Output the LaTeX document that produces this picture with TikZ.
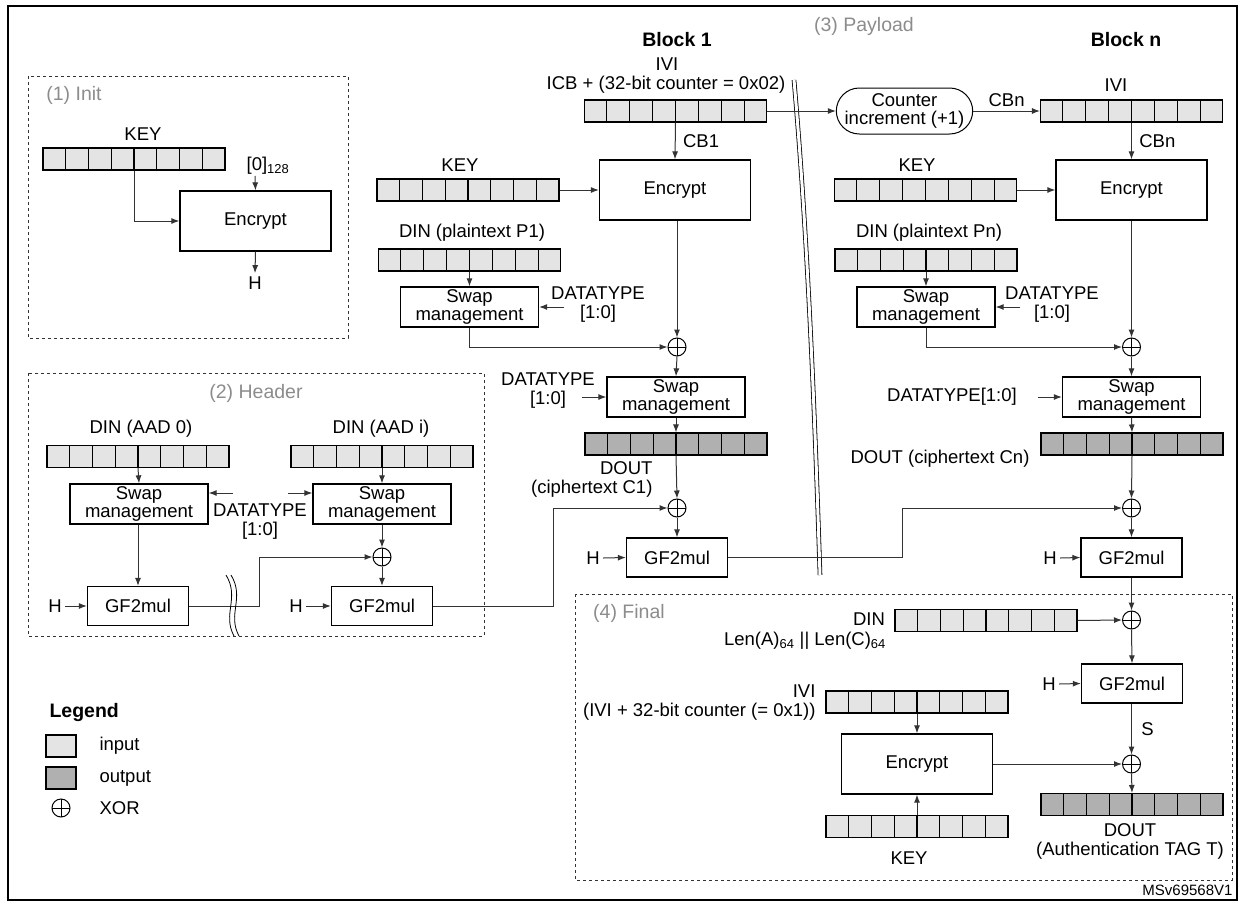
\documentclass[tikz,border=0pt]{standalone}
\usepackage{fontspec}
\setmainfont{Liberation Sans}
\usetikzlibrary{calc,arrows.meta,shapes.misc}
\definecolor{inp}{HTML}{E4E4E4}
\definecolor{outp}{HTML}{B0B0B0}
\definecolor{ttl}{HTML}{8C8C8C}
\definecolor{ln}{HTML}{333333}
\newcommand\regbox[4]{%
  \node[draw,line width=1.1pt,fill=#4,minimum width=182pt,minimum height=22pt,inner sep=0pt] (#1) at (#2,#3) {};
  \foreach \i in {1,...,7}{\draw[line width=1.1pt] ($(#1.south west)!\i/8!(#1.south east)$) -- ($(#1.north west)!\i/8!(#1.north east)$);}}
\begin{document}
\begin{tikzpicture}[x=1pt,y=-1pt,
  every node/.style={font=\fontsize{18.5}{19}\selectfont},
  blk/.style={draw,line width=1.3pt,fill=white,inner sep=1pt,align=center},
  swapbox/.style={blk,minimum width=138pt,minimum height=40pt,font=\fontsize{18.5}{18}\selectfont},
  gfbox/.style={blk,minimum width=101pt,minimum height=39pt},
  encbox/.style={blk,minimum width=151pt,minimum height=60pt},
  xorn/.style={circle,draw,line width=1pt,minimum size=18pt,inner sep=0pt,
    path picture={\draw[line width=1pt] (path picture bounding box.north) -- (path picture bounding box.south) (path picture bounding box.west) -- (path picture bounding box.east);}},
  arr/.style={draw=ln,line width=1pt,-{Latex[length=8pt,width=6pt]}},
  frame/.style={dashed,line width=0.9pt,draw=black!80},
  gtitle/.style={text=ttl,font=\fontsize{19.5}{20}\selectfont},
  btitle/.style={font=\bfseries\fontsize{19.5}{20}\selectfont}]
\useasboundingbox (0,0) rectangle (1240,905);
\draw[line width=1.6pt] (8,6) rectangle (1237,900);

% ---------- (1) Init
\draw[frame] (28,76) rectangle (348,338);
\node[gtitle] (tinit) at (74,95) {(1) Init};
\node (ikeyl) at (143,134) {KEY};
\regbox{ikey}{134}{159}{inp}
\node[encbox] (ienc) at (255.5,221) {Encrypt};
\node (izero) at (268,166) {[0]\textsubscript{128}};
\coordinate (iz) at (255,176);
\draw[arr] (iz) -- (ienc.north);
\draw[arr] (ikey.south) |- (ienc.west);
\node (iH) at (255,283) {H};
\draw[arr] (ienc.south) -- (iH.north);

% ---------- titles
\node[btitle] (tb1) at (677,40) {Block 1};
\node[gtitle] (tpay) at (864,26) {(3) Payload};
\node[btitle] (tbn) at (1126,40) {Block n};

% ---------- Block 1
\node (ivi1l) at (667,64) {IVI};
\node (icbl) at (666,85) {ICB + (32-bit counter = 0x02)};
\regbox{ivi1}{675.5}{111}{inp}
\node[encbox] (enc1) at (675,190) {Encrypt};
\draw[arr] (ivi1.south) -- (enc1.north) node[midway,right,xshift=4pt] {CB1};
\node (key1l) at (460,165) {KEY};
\regbox{key1}{468}{190}{inp}
\draw[arr] (key1.east) -- (enc1.west);
\node (din1l) at (472,233) {DIN (plaintext P1)};
\regbox{din1}{469.5}{260}{inp}
\node[swapbox] (sw1) at (469.5,307) {Swap\\management};
\draw[arr] (din1.south) -- (sw1.north);
\node[align=center] (dt1) at (598,305) {DATATYPE\\{}[1:0]};
\coordinate (dt1a) at (564,307);
\draw[arr] (dt1a) -- (sw1.east);
\node[xorn] (x1) at (677,347) {};
\draw[arr] (enc1.south -| x1) -- (x1.north);
\draw[arr] (sw1.south) |- (x1.west);
\node[swapbox] (sw1b) at (676,397) {Swap\\management};
\draw[arr] (x1.south) -- (sw1b.north);
\node[align=center] (dt1b) at (548,391) {DATATYPE\\{}[1:0]};
\coordinate (dt1ba) at (582,397);
\draw[arr] (dt1ba) -- (sw1b.west);
\regbox{dout1}{676}{444}{outp}
\draw[arr] (sw1b.south) -- (dout1.north);
\node[anchor=east,align=right] (dout1l) at (656,479) {DOUT\\(ciphertext C1)};
\node[xorn] (x2) at (677,508) {};
\draw[arr] (dout1.south) -- (x2.north);
\node[gfbox] (gf1) at (677,557.5) {GF2mul};
\draw[arr] (x2.south) -- (gf1.north);
\node (h1) at (593,558) {H};
\draw[arr] (h1.east) -- (gf1.west);

% ---------- separator
\draw[line width=0.8pt,double distance=3pt] (794,80) .. controls (808,240) and (815,420) .. (820,575);

% ---------- Block n
\node[rounded rectangle,draw,line width=1pt,minimum width=143pt,minimum height=46pt,align=center,font=\fontsize{18.5}{18}\selectfont] (cnt) at (904.5,111) {Counter\\increment (+1)};
\draw[arr] (ivi1.east) -- (cnt.west);
\node (ivinl) at (1116,85) {IVI};
\regbox{ivin}{1131.5}{111}{inp}
\draw[arr] (cnt.east) -- (ivin.west) node[midway,above] {CBn};
\node[encbox] (encn) at (1131.5,190) {Encrypt};
\draw[arr] (ivin.south) -- (encn.north) node[midway,right,xshift=4pt] {CBn};
\node (keynl) at (917,165) {KEY};
\regbox{keyn}{925.5}{190}{inp}
\draw[arr] (keyn.east) -- (encn.west);
\node (dinnl) at (929,233) {DIN (plaintext Pn)};
\regbox{dinn}{926}{260}{inp}
\node[swapbox] (swn) at (926,307) {Swap\\management};
\draw[arr] (dinn.south) -- (swn.north);
\node[align=center] (dtn) at (1052,305) {DATATYPE\\{}[1:0]};
\coordinate (dtna) at (1020,307);
\draw[arr] (dtna) -- (swn.east);
\node[xorn] (xn1) at (1131.5,347) {};
\draw[arr] (encn.south) -- (xn1.north);
\draw[arr] (swn.south) |- (xn1.west);
\node[swapbox] (swnb) at (1131.5,397) {Swap\\management};
\draw[arr] (xn1.south) -- (swnb.north);
\node (dtnb) at (952,397) {DATATYPE[1:0]};
\coordinate (dtnba) at (1038,397);
\draw[arr] (dtnba) -- (swnb.west);
\regbox{doutn}{1132}{444}{outp}
\draw[arr] (swnb.south) -- (doutn.north);
\node (doutnl) at (940,459) {DOUT (ciphertext Cn)};
\node[xorn] (xn2) at (1131.5,508) {};
\draw[arr] (doutn.south) -- (xn2.north);
\node[gfbox] (gfn) at (1131.5,557.5) {GF2mul};
\draw[arr] (xn2.south) -- (gfn.north);
\node (hn) at (1050,558) {H};
\draw[arr] (hn.east) -- (gfn.west);
\draw[arr] (gf1.east) -- ++(174,0) |- (xn2.west);

% ---------- (2) Header
\draw[frame] (28,373) rectangle (484,636);
\node[gtitle] (thdr) at (256,393) {(2) Header};
\node (h0l) at (141,429) {DIN (AAD 0)};
\regbox{h0}{138}{456.5}{inp}
\node[swapbox] (swh1) at (139,504) {Swap\\management};
\draw[arr] (h0.south) -- (swh1.north);
\node (hil) at (381,429) {DIN (AAD i)};
\regbox{hi}{382}{456.5}{inp}
\node[swapbox] (swh2) at (382,504) {Swap\\management};
\draw[arr] (hi.south) -- (swh2.north);
\node[align=center] (dth) at (260,522) {DATATYPE\\{}[1:0]};
\coordinate (dtha) at (233,493);
\coordinate (dthb) at (288,493);
\draw[arr] (dtha) -- (dtha -| swh1.east);
\draw[arr] (dthb) -- (dthb -| swh2.west);
\node[gfbox] (gfh1) at (138,606) {GF2mul};
\draw[arr] (swh1.south -| gfh1) -- (gfh1.north);
\node (hh1) at (55,606) {H};
\draw[arr] (hh1.east) -- (gfh1.west);
\node[xorn] (xh) at (382,557) {};
\draw[arr] (swh2.south) -- (xh.north);
\node[gfbox] (gfh2) at (382,606) {GF2mul};
\draw[arr] (xh.south) -- (gfh2.north);
\node (hh2) at (296,606) {H};
\draw[arr] (hh2.east) -- (gfh2.west);
\draw[arr] (gfh1.east) -- ++(70,0) |- (xh.west);
\draw[line width=0.8pt] (226,575) .. controls (240,598) and (222,614) .. (234,636);
\draw[line width=0.8pt] (231,575) .. controls (245,598) and (227,614) .. (239,636);
\draw[arr] (gfh2.east) -- ++(120,0) |- (x2.west);

% ---------- (4) Final
\draw[frame] (575,594) rectangle (1232,880);
\node[gtitle] (tfin) at (629,613) {(4) Final};
\node[xorn] (xf1) at (1131.5,620) {};
\draw[arr] (gfn.south) -- (xf1.north);
\node (dinfl) at (869,619) {DIN};
\node (lenl) at (805,641) {Len(A)\textsubscript{64} || Len(C)\textsubscript{64}};
\regbox{dinf}{986}{620.5}{inp}
\draw[arr] (dinf.east) -- (xf1.west);
\node[gfbox] (gff) at (1132,683.5) {GF2mul};
\draw[arr] (xf1.south) -- (gff.north);
\node (hf) at (1049,684) {H};
\draw[arr] (hf.east) -- (gff.west);
\node[xorn] (xf2) at (1131.5,764) {};
\draw[arr] (gff.south -| xf2) -- (xf2.north) node[midway,right,xshift=6pt] {S};
\regbox{doutf}{1132}{804.5}{outp}
\draw[arr] (xf2.south) -- (doutf.north);
\node[align=center] (doutfl) at (1130,841) {DOUT\\(Authentication TAG T)};
\node[anchor=east,align=right] (ivifl) at (819,703) {IVI\\(IVI + 32-bit counter (= 0x1))};
\regbox{ivif}{917}{702}{inp}
\node[encbox] (encf) at (917,764) {Encrypt};
\draw[arr] (ivif.south) -- (encf.north);
\regbox{keyf}{917}{826.5}{inp}
\draw[arr] (keyf.north) -- (encf.south);
\node (keyfl) at (909,858) {KEY};
\draw[arr] (encf.east) -- (xf2.west);

% ---------- Legend
\node[btitle,anchor=west] (lg) at (46,712) {Legend};
\node[draw,line width=1.1pt,fill=inp,minimum width=30pt,minimum height=22pt] (lin) at (61,746) {};
\node[anchor=west] (linl) at (96,746) {input};
\node[draw,line width=1.1pt,fill=outp,minimum width=30pt,minimum height=22pt] (lout) at (61,778) {};
\node[anchor=west] (loutl) at (96,778) {output};
\node[xorn] (lx) at (61,808) {};
\node[anchor=west] (lxl) at (96,808) {XOR};

\node[anchor=east,font=\fontsize{15}{16}\selectfont] (msv) at (1236,890) {MSv69568V1};
\end{tikzpicture}
\end{document}
